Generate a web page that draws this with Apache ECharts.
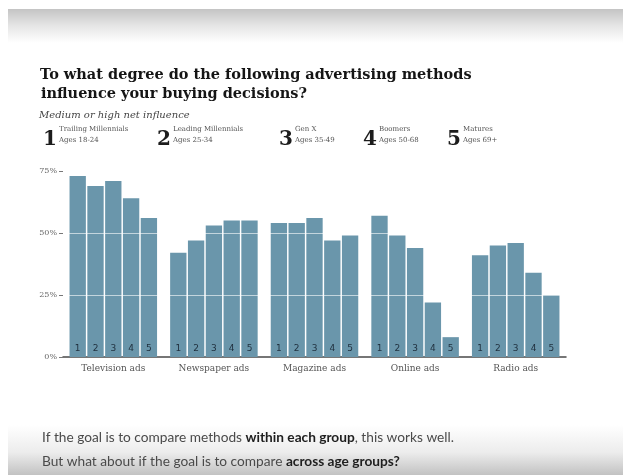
<!DOCTYPE html>
<html>
<head>
<meta charset="utf-8">
<script src="https://cdn.jsdelivr.net/npm/echarts@6/dist/echarts.min.js"></script>
<style>
  html, body { margin: 0; padding: 0; background: #fff; }
  #chart { width: 623px; height: 475px; }
</style>
</head>
<body>
<div id="chart"></div>
<script>
// Advertising methods (x categories)
const methods = ['Television ads', 'Newspaper ads', 'Magazine ads', 'Online ads', 'Radio ads'];

// Age groups (one series each)
const groupNames = ['Trailing Millennials', 'Leading Millennials', 'Gen X', 'Boomers', 'Matures'];
const groupAges = ['Ages 18-24', 'Ages 25-34', 'Ages 35-49', 'Ages 50-68', 'Ages 69+'];

// Share reporting medium or high net influence (%), per method
const trailingMillennials = [73, 42, 54, 57, 41];
const leadingMillennials  = [69, 47, 54, 49, 45];
const genX                = [71, 53, 56, 44, 46];
const boomers             = [64, 55, 47, 22, 34];
const matures             = [56, 55, 49, 8, 25];

// Value axis ticks
const yTicks = [0, 25, 50, 75];

const seriesValues = [trailingMillennials, leadingMillennials, genX, boomers, matures];
const barColor = '#6a96ab';
const serif = '"DejaVu Serif", "Liberation Serif", serif';

const chart = echarts.init(document.getElementById('chart'), null, { renderer: 'canvas' });

const series = seriesValues.map((vals, i) => ({
  name: groupNames[i],
  type: 'bar',
  data: vals,
  barGap: '9%',
  barCategoryGap: '13%',
  itemStyle: { color: barColor },
  label: {
    show: true,
    position: 'insideBottom',
    distance: 4,
    formatter: String(i + 1),
    color: '#1f2f3d',
    fontSize: 9,
    fontFamily: 'DejaVu Sans'
  },
  silent: true
}));

// White reference lines drawn over the bars (invisible on the white page)
series.push({
  type: 'line',
  data: [],
  z: 10,
  silent: true,
  markLine: {
    silent: true,
    symbol: 'none',
    label: { show: false },
    lineStyle: { color: '#ffffff', opacity: 0.6, width: 1, type: 'solid' },
    data: yTicks.filter(v => v > 0 && v < yTicks[yTicks.length - 1]).map(v => ({ yAxis: v }))
  }
});

// Header / legend / caption drawn as graphics
const legendX = [43, 157, 279, 363, 447];
const graphics = [
  {
    type: 'rect', silent: true, z: -1,
    shape: { x: 8, y: 9, width: 615, height: 34 },
    style: {
      fill: new echarts.graphic.LinearGradient(0, 0, 0, 1, [
        { offset: 0, color: '#c4c4c4' },
        { offset: 0.5, color: '#e6e6e6' },
        { offset: 1, color: '#ffffff' }
      ])
    }
  },
  {
    type: 'rect', silent: true, z: -1,
    shape: { x: 8, y: 425, width: 615, height: 50 },
    style: {
      fill: new echarts.graphic.LinearGradient(0, 0, 0, 1, [
        { offset: 0, color: '#ffffff' },
        { offset: 0.55, color: '#ececec' },
        { offset: 1, color: '#c2c2c2' }
      ])
    }
  },
  {
    type: 'text', silent: true,
    style: {
      x: 40, y: 75,
      text: 'To what degree do the following advertising methods',
      font: 'bold 14.5px ' + serif,
      fill: '#151515',
      verticalAlign: 'middle'
    }
  },
  {
    type: 'text', silent: true,
    style: {
      x: 41, y: 94,
      text: 'influence your buying decisions?',
      font: 'bold 14.5px ' + serif,
      fill: '#151515',
      verticalAlign: 'middle'
    }
  },
  {
    type: 'text', silent: true,
    style: {
      x: 39, y: 115,
      text: 'Medium or high net influence',
      font: 'italic 10px ' + serif,
      fill: '#444',
      verticalAlign: 'middle'
    }
  }
];

groupNames.forEach((name, i) => {
  graphics.push({
    type: 'text', silent: true,
    style: {
      x: legendX[i], y: 140,
      text: String(i + 1),
      font: 'bold 20px ' + serif,
      fill: '#1c1c1c',
      verticalAlign: 'middle'
    }
  });
  graphics.push({
    type: 'text', silent: true,
    style: {
      x: legendX[i] + 16, y: 135,
      text: name + '\n' + groupAges[i],
      font: '7px ' + serif,
      lineHeight: 11,
      fill: '#555',
      verticalAlign: 'middle'
    }
  });
});

graphics.push({
  type: 'text', silent: true,
  style: {
    x: 42, y: 438,
    text: '{n|If the goal is to compare methods }{b|within each group}{n|, this works well.}',
    verticalAlign: 'middle',
    rich: {
      n: { font: '13.7px Lato', fill: '#4a4a4a' },
      b: { font: 'bold 13.7px Lato', fill: '#1e1e1e' }
    }
  }
});
graphics.push({
  type: 'text', silent: true,
  style: {
    x: 42, y: 462,
    text: '{n|But what about if the goal is to compare }{b|across age groups?}',
    verticalAlign: 'middle',
    rich: {
      n: { font: '13.7px Lato', fill: '#4a4a4a' },
      b: { font: 'bold 13.7px Lato', fill: '#1e1e1e' }
    }
  }
});

chart.setOption({
  animation: false,
  backgroundColor: '#ffffff',
  grid: { left: 63, right: 57, top: 171, bottom: 118, containLabel: false },
  xAxis: {
    type: 'category',
    data: methods,
    axisLine: { show: true, lineStyle: { color: '#4a4a4a', width: 1.5 } },
    axisTick: { show: false },
    axisLabel: {
      color: '#555',
      fontSize: 9,
      fontFamily: serif,
      margin: 7
    }
  },
  yAxis: {
    type: 'value',
    min: yTicks[0],
    max: yTicks[yTicks.length - 1],
    interval: yTicks[1] - yTicks[0],
    axisLine: { show: false },
    axisTick: { show: true, length: 4, lineStyle: { color: '#777' } },
    splitLine: { show: false },
    axisLabel: {
      color: '#666',
      fontSize: 8,
      fontFamily: serif,
      margin: 6,
      formatter: v => v + '%'
    }
  },
  series: series,
  graphic: graphics
});
</script>
</body>
</html>
